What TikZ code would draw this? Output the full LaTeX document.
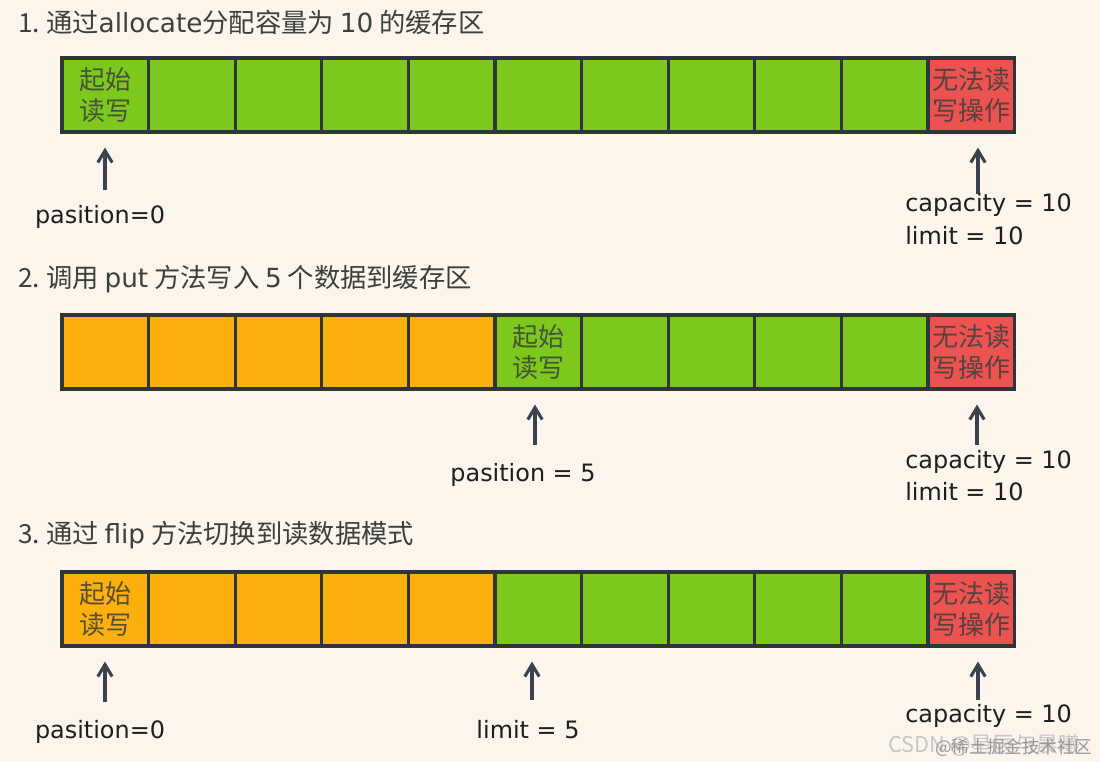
\documentclass[tikz,border=0pt]{standalone}
\usepackage{fontspec}
\setmainfont{Noto Sans CJK SC}
\newfontfamily\xifont{DejaVu Sans}
\usetikzlibrary{arrows.meta,positioning}
\definecolor{BufBg}{RGB}{251,245,236}
\definecolor{BufGreen}{RGB}{124,200,28}
\definecolor{BufOrange}{RGB}{252,176,14}
\definecolor{BufRed}{RGB}{236,82,80}
\definecolor{BufLine}{RGB}{46,54,56}
\definecolor{BufArrow}{RGB}{58,66,78}
\definecolor{BufText}{RGB}{60,64,60}
\definecolor{BufInk}{RGB}{30,30,32}
\tikzset{
  gezi/.style={draw=BufLine, line width=2.2pt, minimum width=2.165cm,
               minimum height=1.85cm, inner sep=0pt},
  geziwen/.style={font=\fontsize{18.5}{22}\selectfont, text=BufText,
                  align=center, inner sep=0pt, opacity=0.85},
  jiantou/.style={-{Straight Barb[length=3mm, width=3.6mm]}, line width=2.2pt,
                  BufArrow, shorten >=0.35cm},
  biaoti/.style={anchor=west, font=\fontsize{18.7}{22}\selectfont, text=BufText, inner sep=0pt},
  biaoqian/.style={font=\xifont\fontsize{17}{20}\selectfont, text=BufInk, inner sep=0pt},
  shuiyin/.style={anchor=west, inner sep=0pt},
}

\begin{document}
\begin{tikzpicture}[x=0.025cm, y=-0.025cm]
  \fill[BufBg] (0,0) rectangle (1100,762);
  \useasboundingbox (0,0) rectangle (1100,762);

  % 三个步骤的标题
  \node[biaoti] (t1) at (18,22) {1.\ 通过{\xifont allocate}分配容量为 {\xifont 10} 的缓存区};
  \node[biaoti] (t2) at (18,279) {2.\ 调用 {\xifont put} 方法写入 {\xifont 5} 个数据到缓存区};
  \node[biaoti] (t3) at (18,535) {3.\ 通过 {\xifont flip} 方法切换到读数据模式};

  % 缓存区格子: 行号/纵坐标/已写入个数
  \foreach \r/\y/\n in {1/95/0, 2/352/5, 3/609/5}{
    \foreach \i in {0,...,10}{
      \ifnum\i<\n \def\tian{BufOrange}\else\def\tian{BufGreen}\fi
      \ifnum\i=10 \def\tian{BufRed}\fi
      \node[gezi, fill=\tian] (r\r-\i) at (105.3+86.6*\i,\y) {};
    }
  }

  \node[geziwen] (w1a) at (r1-0) {起始\\读写};
  \node[geziwen] (w1b) at (r1-10) {无法读\\写操作};
  \node[geziwen] (w2a) at (r2-5) {起始\\读写};
  \node[geziwen] (w2b) at (r2-10) {无法读\\写操作};
  \node[geziwen] (w3a) at (r3-0) {起始\\读写};
  \node[geziwen] (w3b) at (r3-10) {无法读\\写操作};

  % 第一行的指针
  \coordinate (a1p) at (105,190);
  \coordinate (a1c) at (978,194);
  \draw[jiantou] (a1p) -- (a1p |- r1-0.south);
  \draw[jiantou] (a1c) -- (a1c |- r1-10.south);
  \node[biaoqian] (pos1) at (100,217) {pasition=0};
  \node[biaoqian, anchor=west] (cap1) at (905,205) {capacity = 10};
  \node[biaoqian, anchor=west] (lim1) at (905,236) {limit = 10};

  % 第二行的指针
  \coordinate (a2p) at (535,445);
  \coordinate (a2c) at (977,445);
  \draw[jiantou] (a2p) -- (a2p |- r2-5.south);
  \draw[jiantou] (a2c) -- (a2c |- r2-10.south);
  \node[biaoqian] (pos2) at (523,475) {pasition = 5};
  \node[biaoqian, anchor=west] (cap2) at (905,462) {capacity = 10};
  \node[biaoqian, anchor=west] (lim2) at (905,492) {limit = 10};

  % 第三行的指针
  \coordinate (a3p) at (105,702);
  \coordinate (a3l) at (532,700);
  \coordinate (a3c) at (978,700);
  \draw[jiantou] (a3p) -- (a3p |- r3-0.south);
  \draw[jiantou] (a3l) -- (a3l |- r3-5.south);
  \draw[jiantou] (a3c) -- (a3c |- r3-10.south);
  \node[biaoqian] (pos3) at (100,732) {pasition=0};
  \node[biaoqian] (lim3) at (528,730) {limit = 5};
  \node[biaoqian, anchor=west] (cap3) at (905,716) {capacity = 10};

  % 水印
  \node[shuiyin, font=\fontsize{15.5}{17}\selectfont, text=black!22] (sy1) at (888,745) {CSDN @星辰与晨曦};
  \node[shuiyin, font=\fontsize{12.5}{14}\selectfont, text=black!40] (sy2) at (935,748) {@稀土掘金技术社区};
\end{tikzpicture}
\end{document}
